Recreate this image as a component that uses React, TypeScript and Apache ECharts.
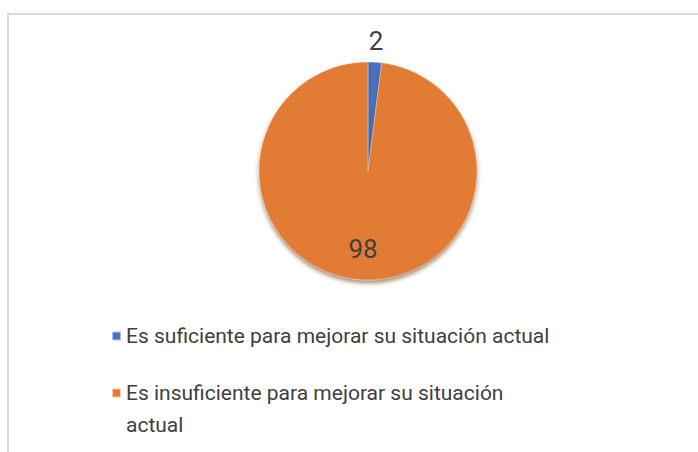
import React, { useEffect, useRef } from "react";
import * as echarts from "echarts";

const categories = [
  "Es suficiente para mejorar su situación actual",
  "Es insuficiente para mejorar su situación actual",
];
const values = [2, 98];
const colors = ["#4472C4", "#E27B34"];

const FONT = "'Liberation Sans Narrow', 'Roboto', 'Liberation Sans', sans-serif";

export default function App() {
  const ref = useRef<HTMLDivElement>(null);
  useEffect(() => {
    document.body.style.margin = "0";
    const chart = echarts.init(ref.current!, undefined, { renderer: "svg" });
    const data = categories.map((name, i) => ({
      name,
      value: values[i],
      itemStyle: { color: colors[i] },
    }));
    const center = [368, 171];
    const legendBase = {
      orient: "vertical",
      left: 111,
      padding: 0,
      itemWidth: 9,
      itemHeight: 9,
      icon: "rect",
      selectedMode: false,
      height: 200,
      textStyle: {
        fontFamily: FONT,
        fontSize: 21,
        color: "#404040",
      },
    };
    chart.setOption({
      animation: false,
      backgroundColor: "#ffffff",
      graphic: [
        {
          type: "rect",
          shape: { x: 8, y: 14, width: 900, height: 900 },
          style: { fill: "none", stroke: "#d9d9d9", lineWidth: 2 },
          silent: true,
        },
      ],
      legend: [
        {
          ...legendBase,
          top: 325,
          textStyle: { ...legendBase.textStyle, lineHeight: 22 },
          data: [categories[0]],
        },
        {
          ...legendBase,
          top: 377,
          itemHeight: 41,
          icon: "path://M0,0H9V9H0Z M0,40.99H0.01V41H0Z",
          textStyle: {
            ...legendBase.textStyle,
            lineHeight: 32,
          },
          formatter: () => "Es insuficiente para mejorar su situación\nactual",
          data: [categories[1]],
        },
      ],
      series: [
        {
          type: "pie",
          center,
          radius: [0, 109],
          startAngle: 90,
          clockwise: true,
          label: { show: false },
          labelLine: { show: false },
          itemStyle: {
            borderColor: "rgba(255,255,255,0.6)",
            borderWidth: 0.5,
            shadowBlur: 4,
            shadowOffsetY: 3,
            shadowColor: "rgba(110,60,10,0.6)",
          },
          emphasis: { disabled: true },
          data,
        },
        {
          type: "pie",
          center,
          radius: [0, 254],
          startAngle: 90,
          silent: true,
          itemStyle: { color: "transparent" },
          labelLine: { show: false },
          label: {
            show: true,
            position: "inside",
            fontFamily: FONT,
            fontSize: 26,
            color: "#404040",
            formatter: (p: any) => (p.dataIndex === 0 ? String(p.value) : ""),
          },
          emphasis: { disabled: true },
          data: categories.map((name, i) => ({ name, value: values[i] })),
        },
        {
          type: "pie",
          center,
          radius: [0, 150],
          startAngle: 90,
          silent: true,
          itemStyle: { color: "transparent" },
          labelLine: { show: false },
          label: {
            show: true,
            position: "inside",
            fontFamily: FONT,
            fontSize: 26,
            color: "#404040",
            formatter: (p: any) => (p.dataIndex === 1 ? String(p.value) : ""),
          },
          emphasis: { disabled: true },
          data: categories.map((name, i) => ({ name, value: values[i] })),
        },
      ],
    });
    return () => chart.dispose();
  }, []);
  return <div ref={ref} style={{ width: 698, height: 452 }} />;
}
